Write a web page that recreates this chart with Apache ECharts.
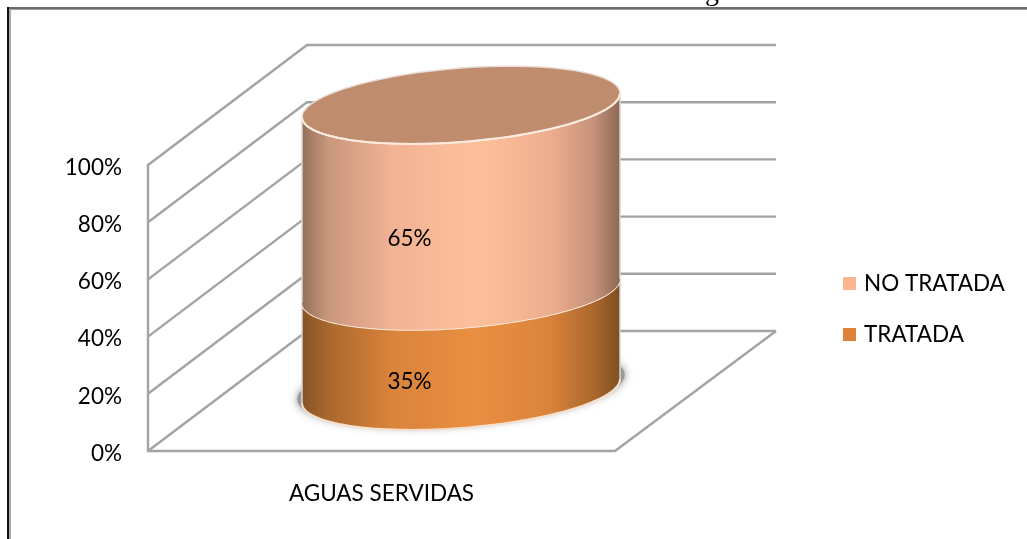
<!DOCTYPE html>
<html>
<head>
<meta charset="utf-8">
<title>Aguas servidas</title>
<script src="https://cdn.jsdelivr.net/npm/echarts@6/dist/echarts.min.js"></script>
<style>
  html, body { margin: 0; padding: 0; background: #fff; }
  #chart { width: 1027px; height: 539px; }
</style>
</head>
<body>
<div id="chart"></div>
<script>
const categories = ['AGUAS SERVIDAS'];
const seriesNames = ['TRATADA', 'NO TRATADA'];
const tratada = [35];
const noTratada = [65];
const yTicks = [0, 20, 40, 60, 80, 100];

const fontName = 'Lato';
const fontSize = 22.5;
const gridColor = '#a3a3a3';
// depth of the fake 3D box
const depthX = 159;
const depthY = -120;
const wallRight = 776;
// cylinder ellipse: half width, half height, skew
const ellA = 159;
const ellB = 37;
const ellK = 12;

function ellipsePoint(cx, cy, t, scale) {
  const s = scale || 1;
  return [cx + ellA * s * Math.cos(t), cy + (-ellK * Math.cos(t) + ellB * Math.sin(t)) * s];
}

function ellipsePath(cx, cy, from, to, scale) {
  const pts = [];
  for (let i = 0; i <= 72; i++) {
    pts.push(ellipsePoint(cx, cy, from + (to - from) * i / 72, scale));
  }
  return pts;
}

function sideGradient(stops) {
  return new echarts.graphic.LinearGradient(0, 0, 1, 0, stops.map(s => ({ offset: s[0], color: s[1] })));
}

const sideColors = {
  TRATADA: [[0, '#845426'], [0.08, '#a9672d'], [0.28, '#d9833b'], [0.55, '#e98f41'], [0.78, '#d9833b'], [0.92, '#a9672d'], [1, '#7e4f21']],
  'NO TRATADA': [[0, '#94705a'], [0.08, '#c8967b'], [0.28, '#f2b293'], [0.55, '#fdc09b'], [0.78, '#eeae8e'], [0.92, '#c4917a'], [1, '#8d6853']]
};

// back wall, side wall and floor lines
function renderWall(params, api) {
  const v = api.value(0);
  const p = api.coord([0, v]);
  const sys = params.coordSys;
  const front = [sys.x, p[1]];
  const back = [sys.x + depthX, p[1] + depthY];
  const line = (points) => ({
    type: 'polyline',
    shape: { points: points },
    style: { fill: null, stroke: gridColor, lineWidth: 2.4 }
  });
  const children = [line([front, back, [wallRight, back[1]]])];
  if (v === 0) {
    children.push(line([[sys.x + sys.width, p[1]], [wallRight, back[1]]]));
  }
  return { type: 'group', children: children };
}

function renderCylinder(params, api) {
  const name = seriesNames[params.seriesIndex - 1];
  const start = api.value(1);
  const end = api.value(2);
  const low = api.coord([api.value(0), start]);
  const high = api.coord([api.value(0), end]);
  const cx = low[0] + depthX / 2;
  const yLow = low[1] + depthY / 2;
  const yHigh = high[1] + depthY / 2;
  const children = [];

  if (start === 0) {
    children.push({
      type: 'polygon',
      shape: { points: ellipsePath(cx, yLow - 4, 0, Math.PI * 2, 1.03) },
      style: { fill: '#999999', shadowBlur: 9, shadowColor: 'rgba(130,130,130,0.9)' }
    });
  }

  // side of the cylinder: upper arc right to left, then lower arc left to right
  const upperArc = ellipsePath(cx, yHigh, 0, Math.PI);
  const lowerArc = ellipsePath(cx, yLow, Math.PI, 0);
  children.push({
    type: 'polygon',
    shape: { points: upperArc.concat(lowerArc) },
    style: { fill: sideGradient(sideColors[name]) }
  });
  // thin grey edges left and right, light rim along the front
  [Math.PI, 0].forEach(t => {
    children.push({
      type: 'polyline',
      shape: { points: [ellipsePoint(cx, yHigh, t), ellipsePoint(cx, yLow, t)] },
      style: { fill: null, stroke: '#d8d4d0', lineWidth: 1.5 }
    });
  });
  if (start === 0) {
    children.push({
      type: 'polyline',
      shape: { points: ellipsePath(cx, yLow, 0, Math.PI) },
      style: { fill: null, stroke: '#f6dfcb', lineWidth: 2 }
    });
  }
  children.push({
    type: 'polyline',
    shape: { points: upperArc },
    style: { fill: null, stroke: '#fbeadd', lineWidth: 2 }
  });

  if (end === 100) {
    children.push({
      type: 'polygon',
      shape: { points: ellipsePath(cx, yHigh, 0, Math.PI * 2) },
      style: { fill: '#bf8c6d', stroke: '#e9dfd8', lineWidth: 1.5 }
    });
    children.push({
      type: 'polyline',
      shape: { points: upperArc },
      style: { fill: null, stroke: '#fbeadd', lineWidth: 2 }
    });
  }

  const mid = api.coord([api.value(0), (start + end) / 2]);
  children.push({
    type: 'text',
    style: {
      text: (end - start) + '%',
      x: mid[0] + 28,
      y: mid[1] - 19,
      align: 'center',
      verticalAlign: 'middle',
      fill: '#000',
      font: fontSize + 'px ' + fontName
    }
  });
  return { type: 'group', children: children };
}

const chart = echarts.init(document.getElementById('chart'), null, { renderer: 'canvas' });
chart.setOption({
  animation: false,
  backgroundColor: '#fff',
  textStyle: { fontFamily: fontName },
  graphic: [
    { type: 'line', silent: true, shape: { x1: 7.5, y1: 8, x2: 1027, y2: 8 }, style: { stroke: '#6a6a6a', lineWidth: 2 } },
    { type: 'line', silent: true, shape: { x1: 9, y1: 9.5, x2: 1027, y2: 9.5 }, style: { stroke: '#a0a0a0', lineWidth: 1 } },
    { type: 'line', silent: true, shape: { x1: 8, y1: 7, x2: 8, y2: 539 }, style: { stroke: '#111', lineWidth: 2 } },
    { type: 'line', silent: true, shape: { x1: 10, y1: 9, x2: 10, y2: 539 }, style: { stroke: '#a8a8a8', lineWidth: 2 } },
    { type: 'text', silent: true, style: { text: 'g', x: 705, y: 7, font: '28px "Liberation Serif"', fill: '#000', verticalAlign: 'bottom' } }
  ],
  grid: { left: 148, top: 165, width: 467, height: 286 },
  legend: {
    orient: 'vertical',
    left: 843,
    top: 272,
    padding: 0,
    data: ['NO TRATADA', 'TRATADA'],
    icon: 'rect',
    itemWidth: 13,
    itemHeight: 13,
    itemGap: 28,
    selectedMode: false,
    textStyle: { fontFamily: fontName, fontSize: fontSize, color: '#000', padding: [0, 0, 0, 3] }
  },
  xAxis: {
    type: 'category',
    data: categories,
    axisTick: { show: false },
    axisLine: { lineStyle: { color: gridColor, width: 2.4 } },
    axisLabel: { color: '#000', fontSize: fontSize, fontFamily: fontName, margin: 31 }
  },
  yAxis: {
    type: 'value',
    min: 0,
    max: 100,
    interval: 20,
    splitLine: { show: false },
    axisTick: { show: false },
    axisLine: { show: true, lineStyle: { color: gridColor, width: 2.4 } },
    axisLabel: {
      color: '#000',
      fontSize: fontSize,
      fontFamily: fontName,
      margin: 26,
      verticalAlign: 'top',
      lineHeight: 5,
      formatter: '{value}%'
    }
  },
  series: [
    {
      type: 'custom',
      silent: true,
      coordinateSystem: 'cartesian2d',
      renderItem: renderWall,
      encode: { y: 0 },
      data: yTicks.map(v => [v])
    },
    {
      name: seriesNames[0],
      type: 'custom',
      silent: true,
      coordinateSystem: 'cartesian2d',
      renderItem: renderCylinder,
      itemStyle: { color: '#dd8238' },
      encode: { x: 0, y: [1, 2] },
      data: tratada.map((v, i) => [i, 0, v])
    },
    {
      name: seriesNames[1],
      type: 'custom',
      silent: true,
      coordinateSystem: 'cartesian2d',
      renderItem: renderCylinder,
      itemStyle: { color: '#fbb591' },
      encode: { x: 0, y: [1, 2] },
      data: noTratada.map((v, i) => [i, tratada[i], tratada[i] + v])
    }
  ]
});
</script>
</body>
</html>
